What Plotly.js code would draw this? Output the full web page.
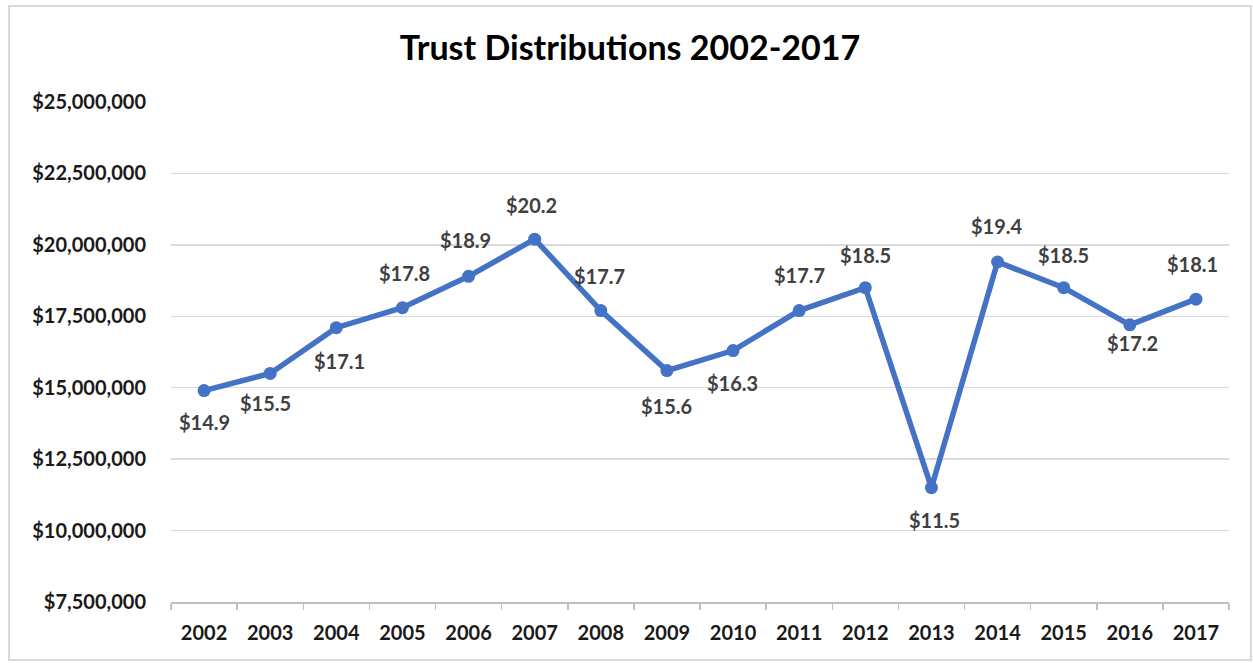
<!DOCTYPE html>
<html>
<head>
<meta charset="utf-8">
<script src="https://cdn.plot.ly/plotly-3.0.1.min.js"></script>
<style>
  html, body { margin: 0; padding: 0; background: #fff; }
  #wrap { position: relative; width: 1253px; height: 663px; }
  #chart { width: 1253px; height: 663px; }
  #frame { position: absolute; left: 8px; top: 5px; width: 1240px; height: 652px;
           border: 2px solid #d9d9d9; pointer-events: none; }
</style>
</head>
<body>
<div id="wrap">
  <div id="chart"></div>
  <div id="frame"></div>
</div>
<script>
// Data (values in dollars)
const years = ['2002','2003','2004','2005','2006','2007','2008','2009','2010','2011','2012','2013','2014','2015','2016','2017'];
const distributions = [14900000, 15500000, 17100000, 17800000, 18900000, 20200000, 17700000, 15600000, 16300000, 17700000, 18500000, 11500000, 19400000, 18500000, 17200000, 18100000];
const labelTexts = ['$14.9','$15.5','$17.1','$17.8','$18.9','$20.2','$17.7','$15.6','$16.3','$17.7','$18.5','$11.5','$19.4','$18.5','$17.2','$18.1'];

// Label placement (style only)
const labelDy = [-31, -30, -33, 35, 36, 34, 35, -35, -32, 36, 33, -32, 36, 33, -18, 35];
const labelDx = [0, -5, 3, 2, -3, -3, -1, 0, -1, 0, 0, 3, -1, 0, 3, -3];

const FONT = 'Lato, "Open Sans", "Liberation Sans", sans-serif';

const trace = {
  x: years,
  y: distributions,
  type: 'scatter',
  mode: 'lines+markers',
  line: { color: '#4472C4', width: 5.5 },
  marker: { color: '#4472C4', size: 13 },
  hoverinfo: 'skip'
};

// annotations on a category axis: use the category index
const annotations = years.map((yr, i) => ({
  x: i, y: distributions[i], xref: 'x', yref: 'y',
  text: labelTexts[i], showarrow: false,
  xshift: labelDx[i], yshift: labelDy[i],
  font: { family: FONT, size: 20, color: '#404040', weight: 'bold' }
}));

const layout = {
  width: 1253, height: 663,
  margin: { l: 171, r: 24, t: 102, b: 61 },
  paper_bgcolor: '#ffffff', plot_bgcolor: '#ffffff',
  showlegend: false,
  title: {
    text: '<b>Trust Distributions 2002-2017</b>',
    x: 630 / 1253, xref: 'container', xanchor: 'center',
    y: 1 - 48/663, yref: 'container', yanchor: 'middle',
    font: { family: FONT, size: 34, color: '#000000' }
  },
  xaxis: {
    type: 'category',
    range: [-0.5, years.length - 0.5],
    showgrid: false,
    showline: true, linecolor: '#bfbfbf', linewidth: 1.5,
    ticks: 'outside', tickson: 'boundaries', ticklen: 6, tickcolor: '#bfbfbf', tickwidth: 1.5,
    tickfont: { family: FONT, size: 20, color: '#1a1a1a', weight: 'bold' },
    tickangle: 0,
    ticklabelstandoff: 12,
    zeroline: false
  },
  yaxis: {
    range: [7500000, 25000000],
    dtick: 2500000, tick0: 0,
    tickprefix: '$', tickformat: ',.0f',
    showgrid: true, gridcolor: '#d9d9d9', gridwidth: 1.5,
    showline: false, zeroline: false, ticks: '',
    tickfont: { family: FONT, size: 20, color: '#1a1a1a', weight: 'bold' },
    ticklabelstandoff: 24
  },
  annotations: annotations
};

Plotly.newPlot('chart', [trace], layout, { displayModeBar: false, staticPlot: true });
</script>
</body>
</html>
